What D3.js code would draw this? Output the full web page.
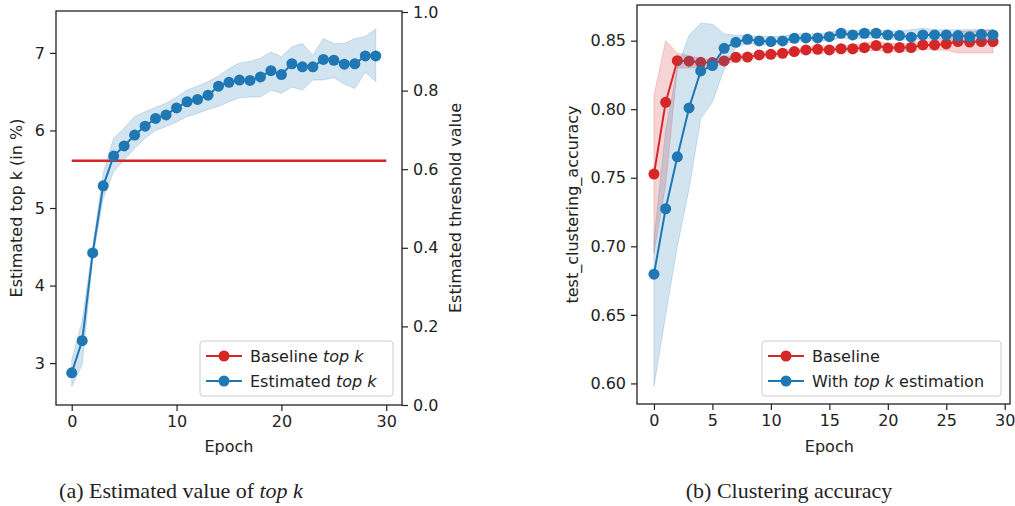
<!DOCTYPE html>
<html>
<head>
<meta charset="utf-8">
<script src="https://cdn.jsdelivr.net/npm/d3@7"></script>
<style>
  html, body { margin: 0; padding: 0; background: #fff; }
  svg { display: block; }
  text { font-family: "DejaVu Sans", sans-serif; fill: #222; }
</style>
</head>
<body>
<svg id="chart" width="1015" height="506"></svg>
<script>
// ---------------- data ----------------
const epochs = [0,1,2,3,4,5,6,7,8,9,10,11,12,13,14,15,16,17,18,19,20,21,22,23,24,25,26,27,28,29];

// (a) Estimated value of top k
const estTopK   = [2.875, 3.29, 4.42, 5.286, 5.67, 5.80, 5.94, 6.055, 6.155, 6.20, 6.29, 6.37, 6.40, 6.455, 6.57, 6.62, 6.65, 6.645, 6.69, 6.77, 6.72, 6.86, 6.82, 6.82, 6.915, 6.905, 6.855, 6.86, 6.96, 6.96];
const estTopKLo = [2.70, 2.98, 4.35, 5.12, 5.47, 5.62, 5.77, 5.90, 6.00, 6.05, 6.11, 6.18, 6.22, 6.27, 6.31, 6.37, 6.42, 6.43, 6.43, 6.52, 6.48, 6.56, 6.52, 6.65, 6.65, 6.68, 6.60, 6.54, 6.75, 6.63];
const estTopKHi = [3.04, 3.55, 4.50, 5.45, 5.90, 6.03, 6.18, 6.24, 6.30, 6.35, 6.43, 6.52, 6.57, 6.63, 6.70, 6.80, 6.87, 6.89, 6.93, 7.01, 6.95, 7.08, 7.12, 6.97, 7.185, 7.12, 7.12, 7.185, 7.21, 7.31];
const baselineEpochs = [0, 30];
const baselineTopK = [5.61, 5.61];

const topKTicks = [3, 4, 5, 6, 7];
const thresholdTicks = [0.0, 0.2, 0.4, 0.6, 0.8, 1.0];
const epochTicksA = [0, 10, 20, 30];

// (b) Clustering accuracy
const baseAcc = [0.7527, 0.805, 0.8354, 0.835, 0.8342, 0.834, 0.8352, 0.8379, 0.838, 0.8396, 0.840, 0.8408, 0.842, 0.8432, 0.8437, 0.8432, 0.8441, 0.8441, 0.8449, 0.8464, 0.8446, 0.845, 0.845, 0.8469, 0.8469, 0.8476, 0.8493, 0.849, 0.8493, 0.8493];
const baseAccLo = [0.695, 0.745, 0.830, 0.830, 0.831, 0.831, 0.833, 0.835, 0.836, 0.837, 0.838, 0.839, 0.840, 0.841, 0.841, 0.841, 0.842, 0.842, 0.842, 0.843, 0.842, 0.842, 0.842, 0.844, 0.843, 0.843, 0.841, 0.841, 0.841, 0.841];
const baseAccHi = [0.810, 0.850, 0.841, 0.839, 0.837, 0.836, 0.837, 0.840, 0.840, 0.842, 0.842, 0.843, 0.844, 0.845, 0.846, 0.846, 0.846, 0.847, 0.848, 0.850, 0.848, 0.848, 0.848, 0.850, 0.850, 0.851, 0.857, 0.857, 0.857, 0.858];
const estAcc = [0.6797, 0.7274, 0.7653, 0.8009, 0.8279, 0.8318, 0.8444, 0.8488, 0.851, 0.8498, 0.8493, 0.8498, 0.8517, 0.852, 0.852, 0.8529, 0.8554, 0.8542, 0.8554, 0.8554, 0.8542, 0.8537, 0.8525, 0.8542, 0.8542, 0.8542, 0.8537, 0.8529, 0.8546, 0.8542];
const estAccLo = [0.598, 0.650, 0.700, 0.742, 0.793, 0.8055, 0.829, 0.845, 0.848, 0.847, 0.847, 0.848, 0.849, 0.850, 0.850, 0.850, 0.852, 0.851, 0.852, 0.852, 0.851, 0.851, 0.850, 0.851, 0.851, 0.851, 0.849, 0.849, 0.850, 0.850];
const estAccHi = [0.705, 0.785, 0.830, 0.854, 0.8627, 0.862, 0.855, 0.854, 0.854, 0.853, 0.853, 0.853, 0.855, 0.855, 0.855, 0.856, 0.858, 0.857, 0.858, 0.858, 0.857, 0.857, 0.858, 0.859, 0.858, 0.858, 0.858, 0.858, 0.858, 0.858];

const accTicks = [0.60, 0.65, 0.70, 0.75, 0.80, 0.85];
const epochTicksB = [0, 5, 10, 15, 20, 25, 30];

const RED = "#d62728", BLUE = "#1f77b4";
const FS = 16;

// ---------------- drawing ----------------
const svg = d3.select("#chart");

function styleAxis(g) {
  g.selectAll("path.domain").remove();
  g.selectAll(".tick line").attr("stroke", "#222").attr("stroke-width", 1.2);
  g.selectAll(".tick text").style("font-size", FS + "px").style("font-family", "DejaVu Sans").attr("fill", "#222");
}

function drawBand(g, x, y, xs, lo, hi, color) {
  const area = d3.area().x((d, i) => x(xs[i])).y0((d, i) => y(lo[i])).y1((d, i) => y(hi[i]));
  g.append("path").datum(xs).attr("d", area)
    .attr("fill", color).attr("fill-opacity", 0.2)
    .attr("stroke", color).attr("stroke-opacity", 0.2).attr("stroke-width", 1);
}

function drawLine(g, x, y, xs, vals, color, markers) {
  const line = d3.line().x((d, i) => x(xs[i])).y((d, i) => y(vals[i]));
  g.append("path").datum(xs).attr("d", line).attr("fill", "none")
    .attr("stroke", color).attr("stroke-width", markers ? 2 : 2.6);
  if (markers) {
    g.selectAll(null).data(xs).enter().append("circle")
      .attr("cx", (d, i) => x(xs[i])).attr("cy", (d, i) => y(vals[i]))
      .attr("r", 5.5).attr("fill", color);
  }
}

function legend(g, x0, y0, w, h, items) {
  g.append("rect").attr("x", x0).attr("y", y0).attr("width", w).attr("height", h)
    .attr("rx", 3).attr("fill", "#fff").attr("fill-opacity", 0.8)
    .attr("stroke", "#ccc").attr("stroke-width", 1);
  items.forEach((it, k) => {
    const cy = y0 + 15 + k * 25;
    g.append("line").attr("x1", x0 + 6).attr("x2", x0 + 42).attr("y1", cy).attr("y2", cy)
      .attr("stroke", it.color).attr("stroke-width", 2);
    g.append("circle").attr("cx", x0 + 24).attr("cy", cy).attr("r", 5.5).attr("fill", it.color);
    const t = g.append("text").attr("x", x0 + 50).attr("y", cy).attr("dy", "0.35em")
      .style("font-size", FS + "px");
    it.parts.forEach(p => {
      t.append("tspan").text(p.t).style("font-style", p.i ? "italic" : "normal");
    });
  });
}

// ---- Panel (a) ----
const A = { l: 56, r: 402, t: 11, b: 405 };
const xA = d3.scaleLinear().domain([-1.5, 31.5]).range([A.l, A.r]);
const yA = d3.scaleLinear().domain([2.46, 7.54]).range([A.b, A.t]);
const yA2 = d3.scaleLinear().domain([0, 1]).range([A.b, A.t + 1]);
const gA = svg.append("g");

drawBand(gA, xA, yA, epochs, estTopKLo, estTopKHi, BLUE);
drawLine(gA, xA, yA, baselineEpochs, baselineTopK, RED, false);
drawLine(gA, xA, yA, epochs, estTopK, BLUE, true);

gA.append("rect").attr("x", A.l).attr("y", A.t).attr("width", A.r - A.l).attr("height", A.b - A.t)
  .attr("fill", "none").attr("stroke", "#222").attr("stroke-width", 1.3);

gA.append("g").attr("transform", `translate(0,${A.b})`)
  .call(d3.axisBottom(xA).tickValues(epochTicksA).tickSize(6).tickPadding(5).tickSizeOuter(0).tickFormat(d3.format("d")))
  .call(styleAxis);
gA.append("g").attr("transform", `translate(${A.l},0)`)
  .call(d3.axisLeft(yA).tickValues(topKTicks).tickSize(6).tickPadding(5).tickSizeOuter(0).tickFormat(d3.format("d")))
  .call(styleAxis);
gA.append("g").attr("transform", `translate(${A.r},0)`)
  .call(d3.axisRight(yA2).tickValues(thresholdTicks).tickSize(6).tickPadding(5).tickSizeOuter(0).tickFormat(d3.format(".1f")))
  .call(styleAxis);

gA.append("text").attr("x", (xA(0) + xA(30)) / 2 + 0).attr("y", 452).attr("text-anchor", "middle")
  .style("font-size", FS + "px").text("Epoch");
gA.append("text").attr("transform", `translate(22,${(A.t + A.b) / 2}) rotate(-90)`)
  .attr("text-anchor", "middle").style("font-size", FS + "px").text("Estimated top k (in %)");
gA.append("text").attr("transform", `translate(461,${(A.t + A.b) / 2}) rotate(-90)`)
  .attr("text-anchor", "middle").style("font-size", FS + "px").text("Estimated threshold value");

legend(gA, 200, 341, 193, 55, [
  { color: RED, parts: [{ t: "Baseline " }, { t: "top k", i: true }] },
  { color: BLUE, parts: [{ t: "Estimated " }, { t: "top k", i: true }] }
]);

// ---- Panel (b) ----
const B = { l: 637, r: 1010, t: 5, b: 404 };
const xB = d3.scaleLinear().domain([-1.45, 30.45]).range([B.l, B.r]);
const yB = d3.scaleLinear().domain([0.585, 0.876]).range([B.b, B.t]);
const gB = svg.append("g");

drawBand(gB, xB, yB, epochs, baseAccLo, baseAccHi, RED);
drawLine(gB, xB, yB, epochs, baseAcc, RED, true);
drawBand(gB, xB, yB, epochs, estAccLo, estAccHi, BLUE);
drawLine(gB, xB, yB, epochs, estAcc, BLUE, true);

gB.append("rect").attr("x", B.l).attr("y", B.t).attr("width", B.r - B.l).attr("height", B.b - B.t)
  .attr("fill", "none").attr("stroke", "#222").attr("stroke-width", 1.3);

gB.append("g").attr("transform", `translate(0,${B.b})`)
  .call(d3.axisBottom(xB).tickValues(epochTicksB).tickSize(6).tickPadding(5).tickSizeOuter(0).tickFormat(d3.format("d")))
  .call(styleAxis);
gB.append("g").attr("transform", `translate(${B.l},0)`)
  .call(d3.axisLeft(yB).tickValues(accTicks).tickSize(6).tickPadding(5).tickSizeOuter(0).tickFormat(d3.format(".2f")))
  .call(styleAxis);

gB.append("text").attr("x", (xB(0) + xB(30)) / 2).attr("y", 452).attr("text-anchor", "middle")
  .style("font-size", FS + "px").text("Epoch");
gB.append("text").attr("transform", `translate(578,${(B.t + B.b) / 2}) rotate(-90)`)
  .attr("text-anchor", "middle").style("font-size", FS + "px").text("test_clustering_accuracy");

legend(gB, 762, 341, 239, 55, [
  { color: RED, parts: [{ t: "Baseline" }] },
  { color: BLUE, parts: [{ t: "With " }, { t: "top k", i: true }, { t: " estimation" }] }
]);

// ---- captions ----
function caption(cx, parts) {
  const t = svg.append("text").attr("x", cx).attr("y", 498).attr("text-anchor", "middle")
    .style("font-family", "Liberation Serif, serif").style("font-size", "22px");
  parts.forEach(p => t.append("tspan").text(p.t).style("font-style", p.i ? "italic" : "normal")
    .style("font-family", "Liberation Serif, serif"));
}
caption(181, [{ t: "(a) Estimated value of " }, { t: "top k", i: true }]);
caption(789, [{ t: "(b) Clustering accuracy" }]);
</script>
</body>
</html>
